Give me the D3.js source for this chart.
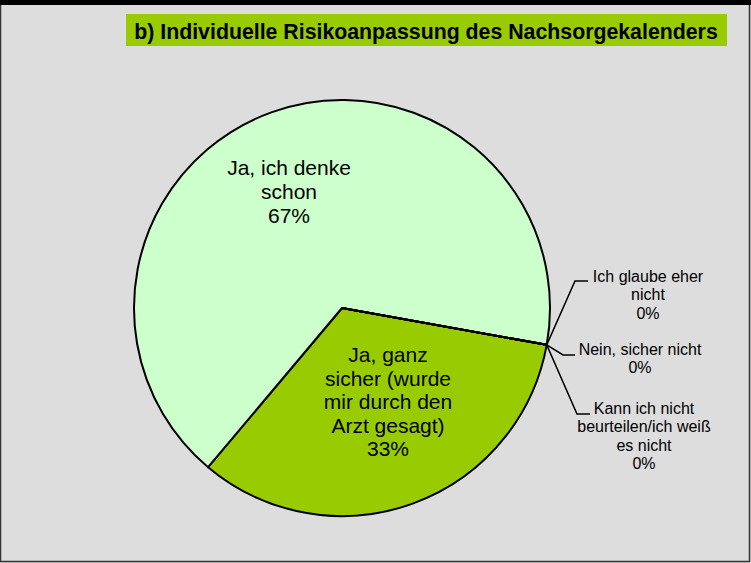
<!DOCTYPE html>
<head>
  <meta charset="utf-8">
  <script src="https://d3js.org/d3.v7.min.js"></script>
  <style>
    body { margin:0; background:#dddddd; }
    svg { display:block; font-family:"Liberation Sans", Arial, sans-serif; }
  </style>
</head>
<body>
<script>
  // data
  var categories = [
    "Ja, ganz sicher (wurde mir durch den Arzt gesagt)",
    "Ja, ich denke schon",
    "Ich glaube eher nicht",
    "Nein, sicher nicht",
    "Kann ich nicht beurteilen/ich weiß es nicht"
  ];
  var values = [33.3, 66.7, 0, 0, 0];
  var pctLabels = ["33%", "67%", "0%", "0%", "0%"];
  var labelLines = [
    ["Ja, ganz", "sicher (wurde", "mir durch den", "Arzt gesagt)"],
    ["Ja, ich denke", "schon"],
    ["Ich glaube eher", "nicht"],
    ["Nein, sicher nicht"],
    ["Kann ich nicht", "beurteilen/ich weiß", "es nicht"]
  ];
  var colors = ["#99cc00", "#ccffcc", "#ccffcc", "#ccffcc", "#ccffcc"];
  var title = "b) Individuelle Risikoanpassung des Nachsorgekalenders";

  var width = 751, height = 563;
  var cx = 342, cy = 308, radius = 208;
  var startDeg = 100.2;

  var svg = d3.select("body").append("svg")
    .attr("width", width)
    .attr("height", height);

  // frame
  svg.append("rect")
    .attr("x", 0.5).attr("y", 0.5)
    .attr("width", 749).attr("height", 561)
    .attr("fill", "#dddddd")
    .attr("stroke", "#333").attr("stroke-width", 1.5);
  svg.append("rect")
    .attr("x", 0).attr("y", 0)
    .attr("width", width).attr("height", 5)
    .attr("fill", "#000");

  // title box
  svg.append("rect")
    .attr("x", 126).attr("y", 14)
    .attr("width", 601).attr("height", 32)
    .attr("fill", "#99cc00");
  svg.append("text")
    .attr("x", 426).attr("y", 38.5)
    .attr("text-anchor", "middle")
    .attr("font-size", 21.3).attr("font-weight", "bold")
    .attr("fill", "#000")
    .text(title);

  var pie = d3.pie()
    .sort(null)
    .value(function(d){ return d; })
    .startAngle(startDeg * Math.PI / 180)
    .endAngle(startDeg * Math.PI / 180 + 2 * Math.PI);

  var arcs = pie(values);
  var arc = d3.arc().innerRadius(0).outerRadius(radius);

  var g = svg.append("g").attr("transform", "translate(" + cx + "," + cy + ")");

  g.selectAll(".slice")
    .data(arcs)
    .enter()
    .append("path")
    .attr("class", "slice")
    .attr("d", arc)
    .attr("fill", function(d, i){ return colors[i]; })
    .attr("stroke", "#000")
    .attr("stroke-width", 2)
    .attr("stroke-linejoin", "round");

  // label placement (x center, first baseline, line height, font size, leader end)
  var labelPos = [
    { x: 388, y: 362, lh: 23.5, fs: 21 },
    { x: 289, y: 175, lh: 24, fs: 21 },
    { x: 648, y: 282, lh: 18.3, fs: 16, lead: [[575, 281], [588, 281]] },
    { x: 640, y: 355, lh: 18.3, fs: 16, lead: [[563, 355], [575, 355]] },
    { x: 644, y: 414, lh: 18.3, fs: 16, lead: [[577, 414], [590, 414]] }
  ];

  var outer = d3.arc().innerRadius(radius).outerRadius(radius);

  arcs.forEach(function(d, i){
    var p = labelPos[i];
    if (p.lead) {
      var a = outer.centroid(d);
      var pts = [[a[0] + cx, a[1] + cy]].concat(p.lead);
      svg.append("path")
        .attr("d", d3.line()(pts))
        .attr("fill", "none")
        .attr("stroke", "#000")
        .attr("stroke-width", 1.5);
    }
    var lines = labelLines[i].concat([pctLabels[i]]);
    var t = svg.append("text")
      .attr("text-anchor", "middle")
      .attr("font-size", p.fs)
      .attr("fill", "#000");
    lines.forEach(function(s, k){
      t.append("tspan")
        .attr("x", p.x)
        .attr("y", p.y + k * p.lh)
        .text(s);
    });
  });
</script>
</body>
